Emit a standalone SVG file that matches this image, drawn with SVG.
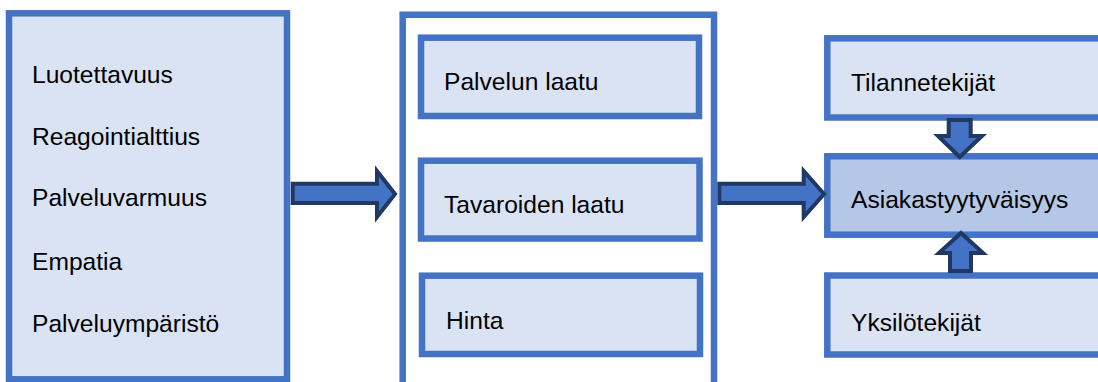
<svg xmlns="http://www.w3.org/2000/svg" width="1098" height="382" viewBox="0 0 1098 382">
<style>
.box{fill:#dae3f3;stroke:#4472c4;stroke-width:6.5}
.dark{fill:#b4c7e7;stroke:#4472c4;stroke-width:6.5}
.frame{fill:#ffffff;stroke:#4472c4;stroke-width:6.5}
.arr{fill:#4472c4;stroke:#1f3864;stroke-width:4;stroke-linejoin:miter}
text{font-family:"Liberation Sans",Arial,sans-serif;font-size:24.6px;fill:#000}
</style>
<rect width="1098" height="382" fill="#ffffff"/>
<g id="left">
<rect class="box" x="9" y="13.3" width="278" height="366"/>
<text x="32" y="83">Luotettavuus</text>
<text x="32" y="145">Reagointialttius</text>
<text x="32" y="206">Palveluvarmuus</text>
<text x="32" y="270">Empatia</text>
<text x="32" y="332">Palveluympäristö</text>
</g>
<g id="middle">
<path class="frame" d="M402.7,390 V14.7 H714 V390"/>
</g>
<g id="palvelun-laatu">
<rect class="box" x="421" y="37.7" width="278" height="78.3"/>
<text x="444" y="90">Palvelun laatu</text>
</g>
<g id="tavaroiden-laatu">
<rect class="box" x="421" y="160.7" width="278.5" height="77.8"/>
<text x="444" y="213">Tavaroiden laatu</text>
</g>
<g id="hinta">
<rect class="box" x="422" y="275.7" width="278" height="78.3"/>
<text x="446" y="329">Hinta</text>
</g>
<g id="tilannetekijat">
<rect class="box" x="827.3" y="38.3" width="280" height="79.2"/>
<text x="851" y="91">Tilannetekijät</text>
</g>
<g id="asiakastyytyvaisyys">
<rect class="dark" x="827.3" y="156.3" width="280" height="78.4"/>
<text x="851" y="208">Asiakastyytyväisyys</text>
</g>
<g id="yksilotekijat">
<rect class="box" x="827.3" y="275.5" width="280" height="79"/>
<text x="851" y="331">Yksilötekijät</text>
</g>
<g id="connectors">
<polygon class="arr" points="292.7,183.7 377,183.7 377,171 395,194 377,217 377,203 292.7,203"/>
<polygon class="arr" points="719.3,183.7 803.7,183.7 803.7,171 824,194 803.7,217 803.7,203 719.3,203"/>
<polygon class="arr" points="948.7,120 970.7,120 970.7,136 982,136 959.7,157 938,136 948.7,136"/>
<polygon class="arr" points="950,271 971,271 971,253 983,253 961,233 939,253 950,253"/>
</g>
</svg>
